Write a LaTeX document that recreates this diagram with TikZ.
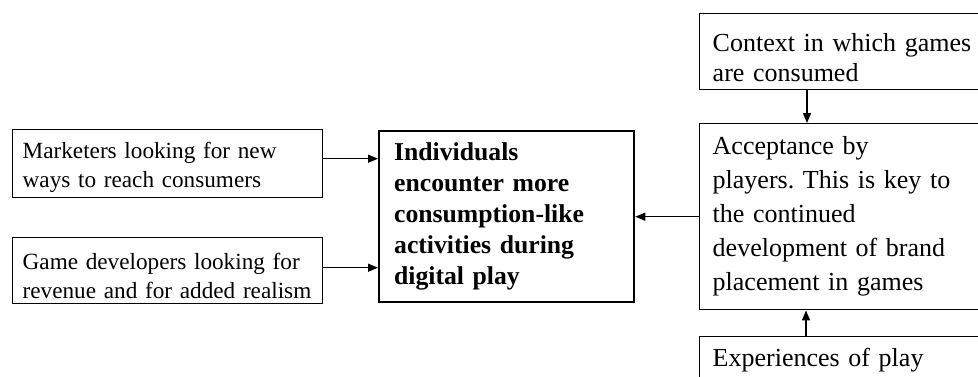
\documentclass[tikz,border=0pt]{standalone}
\usepackage{fontspec}
\setmainfont{Liberation Serif}
\usetikzlibrary{arrows.meta}
\frenchspacing
\newcommand{\toplift}[1]{\rule{0pt}{#1}}
\begin{document}
\begin{tikzpicture}[x=1pt,y=-1pt,
  box/.style={draw, line width=1.4pt, rectangle, anchor=north west, align=left, inner ysep=0pt},
  srcbox/.style={box, inner xsep=10pt, text width=290pt, minimum width=310pt,
    font=\fontsize{23.2}{29}\selectfont},
  focusbox/.style={box, line width=2.3pt, inner xsep=15pt, text width=225pt, minimum width=255pt,
    font=\bfseries\fontsize{25.7}{31}\selectfont},
  sidebox/.style={box, inner xsep=13pt, text width=294pt, minimum width=320pt,
    font=\fontsize{26}{34}\selectfont},
  arr/.style={line width=1.4pt, -{Triangle[length=10pt,width=8pt]}}
]
\useasboundingbox (0,0) rectangle (978,376);
\clip (0,0) rectangle (978,376);

% drivers on the left
\node[srcbox, minimum height=68pt] (mk) at (12,129)
  {\toplift{24pt}\mbox{Marketers looking for new}\\\mbox{ways to reach consumers}};
\node[srcbox, minimum height=66pt] (gd) at (12,237)
  {\toplift{26pt}\mbox{Game developers looking for}\\\mbox{revenue and for added realism}};

% central outcome
\node[focusbox, minimum height=171pt] (mid) at (378,130)
  {Individuals\\encounter more\\consumption-like\\activities during\\digital play};

% right-hand column
\node[sidebox, minimum height=76pt, font=\fontsize{26}{30}\selectfont] (ctx) at (699,13)
  {\toplift{30pt}Context in which games\\are consumed};
\node[sidebox, minimum height=186pt] (acc) at (699,123)
  {Acceptance by\\players. This is key to\\the continued\\development of brand\\placement in games};
\node[sidebox, minimum height=46pt] (exp) at (699,336)
  {Experiences of play};

% connectors
\draw[arr] ([yshift=5pt]mk.east) -- ([yshift=5pt]mk.east -| mid.west);
\draw[arr] ([yshift=3pt]gd.east) -- ([yshift=3pt]gd.east -| mid.west);
\draw[arr] (acc.west) -- (acc.west -| mid.east);
\draw[arr] ([xshift=108pt]ctx.south west) -- ([xshift=108pt]acc.north west);
\draw[arr] ([xshift=107pt]exp.north west) -- ([xshift=107pt]acc.south west);
\end{tikzpicture}
\end{document}
